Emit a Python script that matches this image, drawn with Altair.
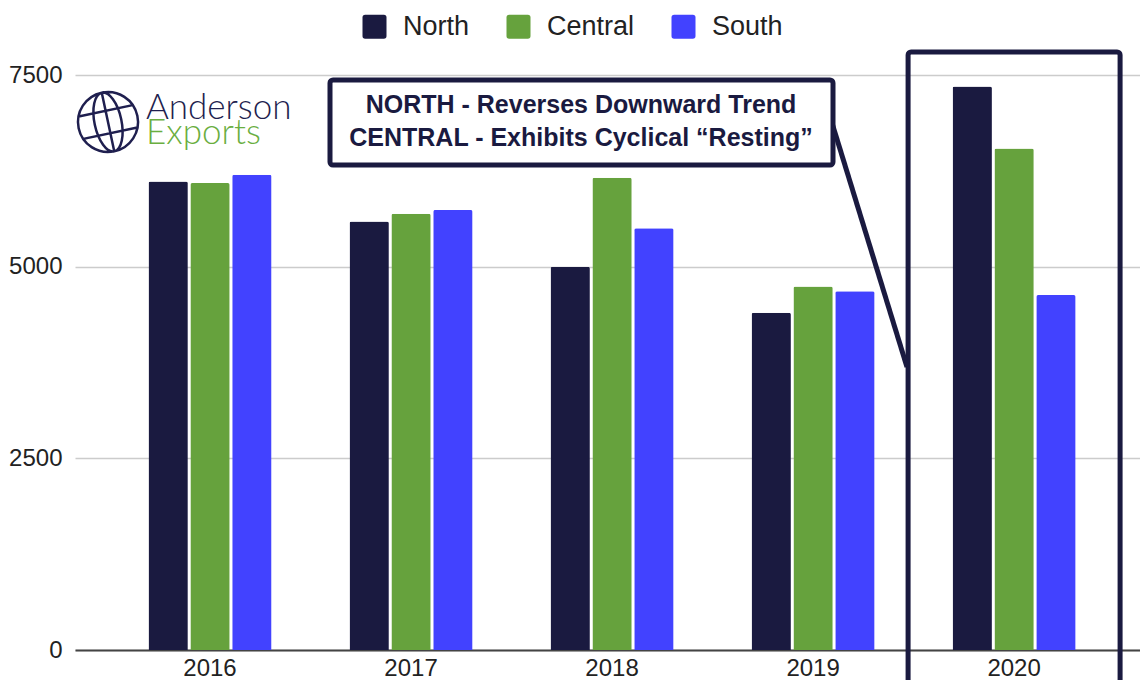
import altair as alt
import pandas as pd

years = ["2016", "2017", "2018", "2019", "2020"]
regions = ["North", "Central", "South"]
north = [6110, 5590, 5000, 4400, 7350]
central = [6090, 5690, 6160, 4740, 6540]
south = [6200, 5740, 5500, 4680, 4630]
colors = ["#1a1a40", "#66a23d", "#4242ff"]
y_ticks = [0, 2500, 5000, 7500]
note_lines = ["NORTH - Reverses Downward Trend", "CENTRAL - Exhibits Cyclical \u201cResting\u201d"]
highlight_year = "2020"
highlight_top = 7800
highlight_bottom = -1000

NAVY = "#1a1a40"
FONT = "Liberation Sans"

rows = []
for i, y in enumerate(years):
    for r, vals in zip(regions, [north, central, south]):
        rows.append({"year": y, "region": r, "value": vals[i]})
df = pd.DataFrame(rows)

legend_symbol = "M-1,-0.78Q-1,-1,-0.78,-1L0.78,-1Q1,-1,1,-0.78L1,0.78Q1,1,0.78,1L-0.78,1Q-1,1,-1,0.78Z"

bars = alt.Chart(df).mark_bar(cornerRadiusTopLeft=2, cornerRadiusTopRight=2).encode(
    x=alt.X("year:N", sort=years,
            scale=alt.Scale(paddingInner=0.388, paddingOuter=0.343, align=0.533),
            axis=alt.Axis(title=None, labelAngle=0, labelFontSize=24, labelFont=FONT,
                          labelColor="#222222", labelPadding=6, ticks=False,
                          domain=True, domainColor="#444444", domainWidth=2, grid=False)),
    xOffset=alt.XOffset("region:N", sort=regions,
                        scale=alt.Scale(paddingInner=0.06, paddingOuter=0)),
    y=alt.Y("value:Q", scale=alt.Scale(domain=[0, 7500], nice=False),
            axis=alt.Axis(title=None, values=y_ticks, format="d", labelFontSize=24, labelFont=FONT,
                          labelColor="#222222", labelPadding=13, ticks=False, domain=False,
                          grid=True, gridColor="#cccccc", gridWidth=1.5)),
    color=alt.Color("region:N", sort=regions,
                    scale=alt.Scale(domain=regions, range=colors),
                    legend=alt.Legend(title=None, orient="none", legendX=286, legendY=-62,
                                      direction="horizontal", symbolType=legend_symbol,
                                      symbolSize=576, symbolStrokeWidth=0, symbolOpacity=1,
                                      labelFontSize=27, labelFont=FONT, labelColor="#222222",
                                      labelOffset=15, columnPadding=35, padding=0)),
)

hl_df = pd.DataFrame({"year": [highlight_year], "top": [highlight_top], "bottom": [highlight_bottom]})
highlight = alt.Chart(hl_df).mark_bar(size=212, fillOpacity=0, stroke=NAVY, strokeWidth=5,
                                      cornerRadius=3).encode(
    x=alt.X("year:N", sort=years),
    y="top:Q",
    y2="bottom:Q",
)

one = pd.DataFrame({"k": [0]})

connector = alt.Chart(one).mark_rule(color=NAVY, strokeWidth=5).encode(
    x=alt.value(757), y=alt.value(48), x2=alt.value(832), y2=alt.value(292)
)

note_box = alt.Chart(one).mark_rect(fill="white", stroke=NAVY, strokeWidth=5, cornerRadius=3).encode(
    x=alt.value(255), x2=alt.value(758), y=alt.value(5), y2=alt.value(90)
)

note1 = alt.Chart(one).mark_text(font=FONT, fontWeight="bold", fontSize=25, color=NAVY,
                                 align="center", baseline="alphabetic").encode(
    x=alt.value(506), y=alt.value(38), text=alt.value(note_lines[0])
)
note2 = alt.Chart(one).mark_text(font=FONT, fontWeight="bold", fontSize=25, color=NAVY,
                                 align="center", baseline="alphabetic").encode(
    x=alt.value(506), y=alt.value(71), text=alt.value(note_lines[1])
)

globe_path = ("M-1,0A1,1,0,1,0,1,0A1,1,0,1,0,-1,0Z"
              "M0,-1A0.45,1,0,1,0,0,1A0.45,1,0,1,0,0,-1Z"
              "M0,-1L0,1"
              "M-0.92,-0.38L0.92,-0.38"
              "M-0.92,0.38L0.92,0.38")
globe = alt.Chart(one).mark_point(shape=globe_path, size=3600, filled=False, stroke="#1f1f4f",
                                  strokeWidth=2.5, angle=348, opacity=1).encode(
    x=alt.value(33), y=alt.value(47)
)
logo1 = alt.Chart(one).mark_text(font="Lato", fontWeight=300, fontSize=35, color="#1f1f4f",
                                 align="left", baseline="alphabetic").encode(
    x=alt.value(71), y=alt.value(44), text=alt.value("Anderson")
)
logo2 = alt.Chart(one).mark_text(font="Lato", fontWeight=300, fontSize=35, color="#6aae3f",
                                 align="left", baseline="alphabetic").encode(
    x=alt.value(71), y=alt.value(69), text=alt.value("Exports")
)

chart = alt.layer(bars, highlight, connector, note_box, note1, note2, globe, logo1, logo2).properties(
    width=1065, height=575,
    padding={"left": 67, "top": 67, "right": 0, "bottom": 30},
    autosize=alt.AutoSizeParams(type="none"),
    background="white",
).configure_view(stroke=None)

chart.save("out.html", embed_options={"renderer": "svg", "actions": False})
